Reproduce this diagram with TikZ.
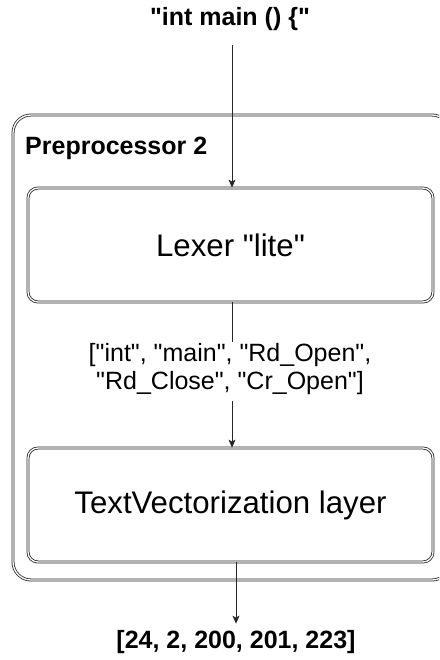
\documentclass[tikz,border=0pt]{standalone}
\usepackage{fontspec}
\setmainfont{Liberation Sans}[Ligatures=TeXOff]
\usetikzlibrary{arrows.meta}
\begin{document}
\begin{tikzpicture}[x=1pt,y=-1pt,
  dbl/.style={draw=black!85, line width=0.8pt, double=white, double distance=1.3pt},
  stagebox/.style={dbl, rounded corners=10pt, minimum width=405pt, minimum height=114pt, inner sep=0pt, font=\fontsize{31.2}{35}\selectfont},
  lbl/.style={font=\fontsize{25}{29}\selectfont\bfseries, inner sep=0pt},
  conn/.style={draw=black!85, line width=0.8pt},
  arr/.style={conn, -{Stealth[length=8pt,width=7pt,inset=2pt]}}]
\useasboundingbox (0,0) rectangle (439,660);
% outer container
\begin{scope}
\clip (0,0) rectangle (439,660);
\draw[dbl, rounded corners=18pt] (13,115) rectangle (450,580);
\end{scope}
\node[lbl, anchor=base west] (pre) at (25,155) {Preprocessor 2};
% nodes
\node[lbl, anchor=base] (title) at (230,26) {"int main () \{"};
\node[stagebox] (lexer) at (230.5,245) {Lexer "lite"};
\node[font=\fontsize{25}{28}\selectfont, align=center, anchor=base, inner sep=1pt] (tok) at (230,389)
  {["int", "main", "Rd\_Open",\\ "Rd\_Close", "Cr\_Open"]};
\node[stagebox] (tv) at (230.5,505) {TextVectorization layer};
\node[lbl, anchor=base] (out) at (236,648) {[24, 2, 200, 201, 223]};
% connectors
\coordinate (t0) at ([xshift=2pt, yshift=-14pt]title.south);
\draw[arr] (t0) -- (t0 |- lexer.north);
\draw[conn] (lexer.south -| t0) -- (tok.north -| t0);
\coordinate (t1) at ([yshift=-6pt]tok.south -| t0);
\draw[arr] (t1) -- (t1 |- tv.north);
\draw[arr] (tv.south -| out.north) -- ([yshift=6pt]out.north);
\end{tikzpicture}
\end{document}
